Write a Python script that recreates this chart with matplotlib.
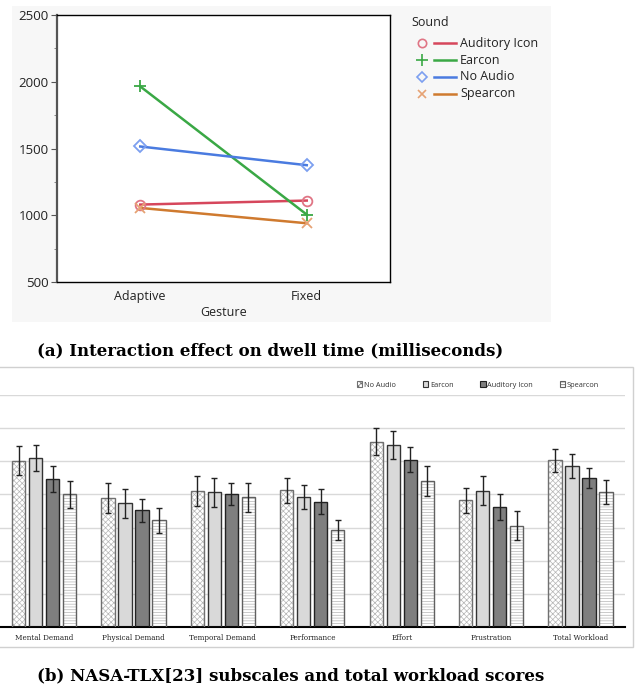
import numpy as np
import matplotlib
matplotlib.use("Agg")
import matplotlib.pyplot as plt
from matplotlib.patches import Rectangle

# ---- top chart data (dwell time, ms) ----
gestures = ["Adaptive", "Fixed"]
sounds = ["Auditory Icon", "Earcon", "No Audio", "Spearcon"]
dwell_auditory = [1080, 1110]
dwell_earcon = [1965, 1005]
dwell_noaudio = [1515, 1375]
dwell_spearcon = [1055, 940]

# ---- bottom chart data (NASA-TLX) ----
subscales = ["Mental Demand", "Physical Demand", "Temporal Demand", "Performance",
             "Effort", "Frustration", "Total Workload"]
tlx_noaudio = [50.2, 38.9, 41.0, 41.3, 55.9, 38.2, 50.3]
tlx_earcon = [51.0, 37.3, 40.6, 39.2, 54.8, 41.1, 48.6]
tlx_auditory = [44.6, 35.2, 40.1, 37.8, 50.5, 36.2, 45.0]
tlx_spearcon = [40.0, 32.2, 39.1, 29.3, 44.0, 30.6, 40.7]
err_noaudio = [4.3, 4.6, 4.5, 3.8, 4.1, 3.8, 3.5]
err_earcon = [4.0, 4.3, 4.4, 3.6, 4.2, 4.4, 3.6]
err_auditory = [4.0, 3.5, 3.4, 3.8, 3.8, 3.9, 3.1]
err_spearcon = [4.1, 3.8, 4.3, 3.1, 4.5, 4.3, 3.7]

plt.rcParams["hatch.linewidth"] = 0.5

W, H = 641, 689
fig = plt.figure(figsize=(W / 100, H / 100), dpi=100)

# background layer in pixel coordinates
bg = fig.add_axes([0, 0, 1, 1], zorder=0)
bg.set_xlim(0, W)
bg.set_ylim(H, 0)
bg.axis("off")
bg.add_patch(Rectangle((12, 6), 539, 316, facecolor="#f7f7f7", edgecolor="none"))
bg.add_patch(Rectangle((-2, 367), 635, 280, facecolor="none", edgecolor="#d0d0d0", lw=1))

# ---- top: interaction plot ----
line_cols = ["#d6475c", "#3aa845", "#4a7be0", "#cf7a2f"]
mark_cols = ["#e07585", "#3aa845", "#7c9ff0", "#e6a274"]
markers = ["o", "+", "D", "x"]
msizes = [7, 9, 6, 7]
series = [dwell_auditory, dwell_earcon, dwell_noaudio, dwell_spearcon]

ax1 = fig.add_axes([57 / W, 1 - 282 / H, 333 / W, 267 / H], zorder=1)
ax1.set_facecolor("white")
x = np.arange(len(gestures))
for vals, lc, mc, m, ms in zip(series, line_cols, mark_cols, markers, msizes):
    ax1.plot(x, vals, color=lc, lw=1.8, zorder=2)
    ax1.plot(x, vals, ls="none", marker=m, ms=ms, mfc="none", mec=mc, mew=1.3, zorder=3)
ax1.set_xlim(-0.5, 1.5)
ax1.set_ylim(500, 2500)
ax1.set_yticks([500, 1000, 1500, 2000, 2500])
ax1.set_yticks(np.arange(750, 2500, 500), minor=True)
ax1.set_xticks(x)
ax1.set_xticklabels(gestures)
ax1.tick_params(axis="x", length=0, pad=6, labelsize=9, labelcolor="#222222")
ax1.tick_params(axis="y", which="major", length=4, color="#555555", labelsize=9.5,
                labelcolor="#222222", pad=2)
ax1.tick_params(axis="y", which="minor", length=2, color="#777777")
for lab in ax1.get_xticklabels() + ax1.get_yticklabels():
    lab.set_family("Open Sans")
for s in ax1.spines.values():
    s.set_color("black")
    s.set_linewidth(1)
ax1.spines["left"].set_color("#555555")
ax1.spines["left"].set_linewidth(1.6)
ax1.set_xlabel("Gesture", family="Open Sans", fontsize=9, color="#222222", labelpad=2)

# legend of top chart (drawn in pixel space)
bg.text(411, 22, "Sound", family="Open Sans", fontsize=9, color="#222222", va="center")
for i, (name, lc, mc, m, ms) in enumerate(zip(sounds, line_cols, mark_cols, markers, msizes)):
    yy = 43 + 17 * i
    bg.plot([422], [yy], marker=m, ms=ms - 1, mfc="none", mec=mc, mew=1.2)
    bg.plot([434, 456], [yy, yy], color=lc, lw=1.8)
    bg.text(460, yy, name, family="Open Sans", fontsize=9, color="#222222", va="center")

# captions
cap_font = dict(family="DejaVu Serif", fontweight="bold", fontsize=12, color="black")
bg.text(37, 351, "(a) Interaction effect on dwell time (milliseconds)", va="center", **cap_font)
bg.text(37, 676, "(b) NASA-TLX[23] subscales and total workload scores", va="center", **cap_font)

# ---- bottom: grouped bars ----
ax2 = fig.add_axes([-0.7 / W, 1 - 627 / H, 626 / W, 232 / H], zorder=1)
ax2.set_facecolor("none")
g = np.arange(len(subscales))
step = 0.19
bw = 0.148
bar_sets = [
    ("No Audio", tlx_noaudio, err_noaudio, "white", "xxxxxx", "#b5b5b5", "#707070"),
    ("Earcon", tlx_earcon, err_earcon, "#d9d9d9", "", "#333333", "#333333"),
    ("Auditory Icon", tlx_auditory, err_auditory, "#7f7f7f", "", "#222222", "#222222"),
    ("Spearcon", tlx_spearcon, err_spearcon, "white", "------", "#b5b5b5", "#606060"),
]
handles = []
for k, (name, vals, errs, fc, hatch, hc, ec) in enumerate(bar_sets):
    pos = g + (k - 1.5) * step
    if hatch:
        ax2.bar(pos, vals, bw, color=fc, hatch=hatch, edgecolor=hc, lw=0, zorder=2)
    else:
        ax2.bar(pos, vals, bw, color=fc, lw=0, zorder=2)
    ax2.bar(pos, vals, bw, color="none", edgecolor=ec, lw=1.0, zorder=3)
    ax2.errorbar(pos, vals, yerr=errs, fmt="none", ecolor="#222222", elinewidth=1,
                 capsize=2, capthick=1, zorder=4)
    handles.append(Rectangle((0, 0), 1, 1, facecolor=fc, hatch=hatch, edgecolor=ec, lw=0.8))

ax2.set_xlim(-0.5, 6.5)
ax2.set_ylim(0, 70)
ax2.set_yticks(np.arange(10, 71, 10))
ax2.yaxis.grid(True, color="#d9d9d9", lw=1)
ax2.set_axisbelow(True)
ax2.tick_params(axis="y", length=0, labelleft=False)
ax2.set_xticks(g)
ax2.set_xticklabels(subscales, family="DejaVu Serif", fontsize=5.2, color="#222222")
ax2.tick_params(axis="x", length=0, pad=5)
for side in ["left", "right", "top"]:
    ax2.spines[side].set_visible(False)
ax2.spines["bottom"].set_color("black")
ax2.spines["bottom"].set_linewidth(1.5)

leg = fig.legend(handles, [b[0] for b in bar_sets], loc="center",
                 bbox_to_anchor=(478 / W, 1 - 385 / H), ncol=4, frameon=False,
                 prop={"family": "Open Sans", "size": 5.3}, handlelength=0.75,
                 handleheight=0.75, handletextpad=0.25, columnspacing=3.6)
for t in leg.get_texts():
    t.set_color("#333333")

fig.savefig("out.png", dpi=100)
